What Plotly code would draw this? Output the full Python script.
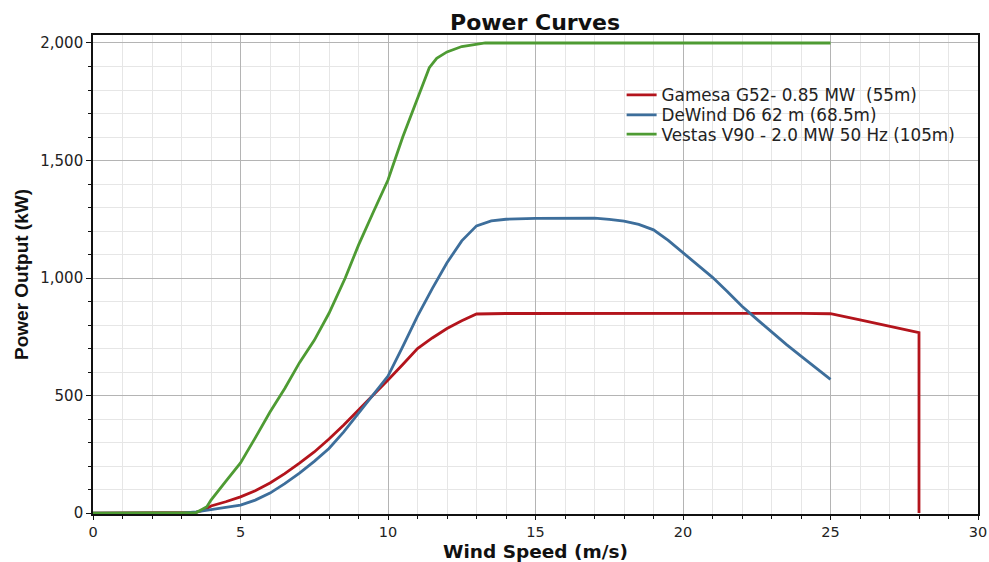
import plotly.graph_objects as go

# Wind speed (m/s) and power output (kW)
gamesa_ws = [0, 3.0, 3.5, 3.8, 4.0, 4.5, 5.0, 5.5, 6.0, 6.5, 7.0, 7.5, 8.0, 8.5, 9.0, 9.5, 10.0,
             10.5, 11.0, 11.5, 12.0, 12.5, 13.0, 14, 16, 18, 20, 22, 24, 25.0, 26.0, 27.0, 28.0, 28.0]
gamesa_kw = [0, 0, 3, 15, 30, 48, 69, 95, 128, 168, 212, 260, 315, 375, 438, 502, 566,
             632, 700, 745, 785, 818, 847, 849, 850, 850, 850, 850, 850, 848, 822, 795, 768, 0]

dewind_ws = [0, 3.0, 3.5, 4.0, 4.5, 5.0, 5.5, 6.0, 6.5, 7.0, 7.5, 8.0, 8.5, 9.0, 9.5, 10.0, 10.5,
             11.0, 11.5, 12.0, 12.5, 13.0, 13.5, 14.0, 15.0, 16.0, 17.0, 17.5, 18.0, 18.5, 19.0,
             19.5, 20.0, 20.5, 21.0, 21.5, 22.0, 22.5, 23.0, 23.5, 24.0, 24.5, 25.0]
dewind_kw = [0, 0, 5, 15, 25, 34, 55, 85, 125, 170, 220, 275, 345, 425, 500, 583, 708,
             838, 955, 1065, 1158, 1222, 1243, 1250, 1254, 1256, 1255, 1250, 1242, 1228, 1205,
             1160, 1109, 1058, 1003, 943, 880, 825, 770, 718, 668, 618, 569]

vestas_ws = [0, 3.0, 3.5, 3.86, 4.0, 4.5, 5.0, 5.5, 6.0, 6.5, 7.0, 7.5, 8.0, 8.55, 9.0, 9.5, 10.0,
             10.5, 11.0, 11.4, 11.65, 12.0, 12.5, 13.0, 13.3, 15, 20, 25.0]
vestas_kw = [0, 0, 2, 27, 55, 135, 213, 320, 430, 530, 640, 735, 850, 1000, 1140, 1280, 1417,
             1600, 1765, 1895, 1935, 1962, 1985, 1996, 2000, 2000, 2000, 2000]

names = ["Gamesa G52- 0.85 MW\u00a0 (55m)", "DeWind D6 62 m (68.5m)", "Vestas V90 - 2.0 MW 50 Hz (105m)"]
colors = ["#B3141C", "#3D6E9B", "#4E9B33"]
legend_ids = ["legend", "legend2", "legend3"]
legend_rows_y = [0.875, 0.833, 0.793]

x_ticks = [0, 5, 10, 15, 20, 25, 30]
y_ticks = [0, 500, 1000, 1500, 2000]

fig = go.Figure()
for ws, kw, nm, col, lg in zip([gamesa_ws, dewind_ws, vestas_ws],
                               [gamesa_kw, dewind_kw, vestas_kw], names, colors, legend_ids):
    fig.add_trace(go.Scatter(x=ws, y=kw, mode="lines", name=nm, legend=lg,
                             line=dict(color=col, width=2.8)))

axis_common = dict(
    showline=True, linecolor="#111111", linewidth=1.6, mirror=True,
    ticks="outside", tickcolor="#111111", tickwidth=1,
    showgrid=True, gridcolor="#B4B4B4", gridwidth=1,
    zeroline=False, automargin=False,
)

fig.update_xaxes(
    range=[0, 30], tickvals=x_ticks, ticklabeloverflow="allow", ticklen=4,
    tickfont=dict(family="DejaVu Sans", size=14.5, color="#222222"),
    minor=dict(dtick=1, showgrid=True, gridcolor="#E6E6E6", ticks="outside",
               ticklen=3, tickcolor="#111111"),
    title=dict(text="<b>Wind Speed (m/s)</b>", standoff=9,
               font=dict(family="DejaVu Sans", size=18.5, color="#111111")),
    **axis_common,
)
fig.update_yaxes(
    range=[-4, 2034], tickvals=y_ticks, tickformat=",d", ticklen=5,
    tickfont=dict(family="DejaVu Sans", size=15, color="#222222"),
    minor=dict(dtick=100, showgrid=True, gridcolor="#E6E6E6", ticks="outside",
               ticklen=3, tickcolor="#111111"),
    title=dict(text="<b>Power Output (kW)</b>", standoff=7,
               font=dict(family="Liberation Sans, Arial", size=19, color="#111111")),
    **axis_common,
)

legend_font = dict(family="DejaVu Sans", size=16.8, color="#222222")
legend_layout = {}
for lg, ly in zip(legend_ids, legend_rows_y):
    legend_layout[lg] = dict(x=0.5973, y=ly, xanchor="left", yanchor="middle",
                             bgcolor="rgba(0,0,0,0)", font=legend_font, itemwidth=30)

fig.update_layout(
    width=989, height=562,
    margin=dict(l=93, r=11, t=35, b=48),
    paper_bgcolor="white", plot_bgcolor="white",
    title=dict(text="<b>Power Curves</b>", x=0.541, xanchor="center", y=0.96, yanchor="middle",
               font=dict(family="DejaVu Sans", size=22, color="#111111")),
    showlegend=True,
    **legend_layout,
)

fig.write_html("out.html")
